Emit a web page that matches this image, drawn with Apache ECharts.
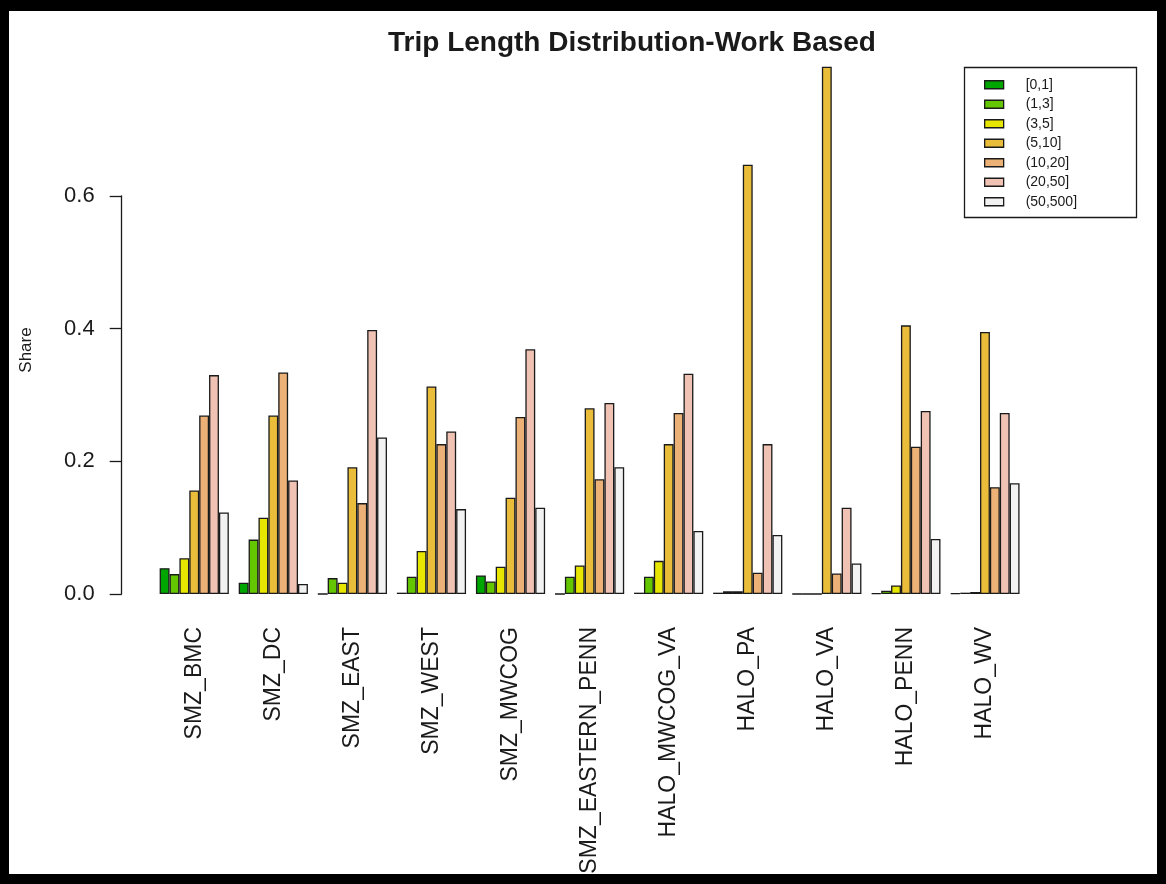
<!DOCTYPE html>
<html>
<head>
<meta charset="utf-8">
<title>Trip Length Distribution-Work Based</title>
<script src="https://cdn.jsdelivr.net/npm/echarts@6/dist/echarts.min.js"></script>
<style>
  html, body { margin: 0; padding: 0; background: #fff; }
  #chart { width: 1166px; height: 884px; }
</style>
</head>
<body>
<div id="chart"></div>
<script>
// regions (x axis categories)
const regions = ['SMZ_BMC', 'SMZ_DC', 'SMZ_EAST', 'SMZ_WEST', 'SMZ_MWCOG', 'SMZ_EASTERN_PENN',
  'HALO_MWCOG_VA', 'HALO_PA', 'HALO_VA', 'HALO_PENN', 'HALO_WV']

// trip length bins (legend)
const bins = ['[0,1]', '(1,3]', '(3,5]', '(5,10]', '(10,20]', '(20,50]', '(50,500]']
const binColors = ['#00A600', '#63C600', '#E6E600', '#E9BD3A', '#ECB176', '#EFC2B3', '#F2F2F2']

// share per region, one array per bin
const share0to1 = [0.039, 0.017, 0.000, 0.002, 0.028, 0.000, 0.002, 0.002, 0.000, 0.001, 0.001]
const share1to3 = [0.030, 0.082, 0.024, 0.026, 0.019, 0.026, 0.026, 0.004, 0.000, 0.005, 0.002]
const share3to5 = [0.054, 0.115, 0.017, 0.065, 0.041, 0.043, 0.050, 0.004, 0.000, 0.013, 0.003]
const share5to10 = [0.156, 0.269, 0.191, 0.313, 0.145, 0.280, 0.226, 0.647, 0.795, 0.405, 0.395]
const share10to20 = [0.269, 0.334, 0.137, 0.226, 0.267, 0.173, 0.273, 0.032, 0.031, 0.222, 0.161]
const share20to50 = [0.330, 0.171, 0.398, 0.245, 0.369, 0.288, 0.332, 0.226, 0.130, 0.276, 0.273]
const share50to500 = [0.123, 0.015, 0.236, 0.128, 0.130, 0.191, 0.095, 0.089, 0.046, 0.083, 0.167]

const shares = [share0to1, share1to3, share3to5, share5to10, share10to20, share20to50, share50to500]

// y axis ticks
const yTicks = [0, 0.2, 0.4, 0.6]

const font = '"Liberation Sans", Arial, sans-serif'
const ink = '#1a1a1a'

const chart = echarts.init(document.getElementById('chart'))

chart.setOption({
  backgroundColor: '#fff',
  animation: false,
  title: {
    text: 'Trip Length Distribution-Work Based',
    left: 627,
    top: 24,
    textAlign: 'center',
    textStyle: { fontFamily: font, fontSize: 28, fontWeight: 'bold', color: ink }
  },
  legend: {
    data: bins,
    orient: 'vertical',
    left: 984,
    top: 75,
    padding: 0,
    itemGap: 0,
    itemWidth: 19,
    itemHeight: 8,
    icon: 'rect',
    itemStyle: { borderColor: ink, borderWidth: 1.3 },
    textStyle: { fontFamily: font, fontSize: 14, lineHeight: 19.5, color: ink, padding: [0, 0, 0, 17] }
  },
  grid: { left: 154.7, right: 141.5, top: 196, bottom: 290 },
  xAxis: {
    type: 'category',
    data: regions,
    axisLine: { show: false },
    axisTick: { show: false },
    axisLabel: {
      rotate: 90,
      margin: 33,
      interval: 0,
      fontFamily: font,
      fontSize: 23,
      color: ink
    }
  },
  yAxis: {
    type: 'value',
    min: yTicks[0],
    max: yTicks[yTicks.length - 1],
    interval: 0.2,
    offset: 33,
    splitLine: { show: false },
    axisLine: { show: true, lineStyle: { color: ink, width: 1.3 } },
    axisTick: { show: true, length: 12, lineStyle: { color: ink, width: 1.3 } },
    axisLabel: {
      margin: 27,
      fontFamily: font,
      fontSize: 22,
      color: ink,
      formatter: v => v.toFixed(1)
    }
  },
  graphic: [
    {
      type: 'text',
      x: 26,
      y: 350,
      rotation: Math.PI / 2,
      style: {
        text: 'Share',
        fontFamily: font,
        fontSize: 17,
        fill: ink,
        align: 'center',
        verticalAlign: 'middle'
      }
    },
    {
      type: 'rect',
      shape: { x: 964.5, y: 67.5, width: 172, height: 150 },
      style: { fill: 'none', stroke: ink, lineWidth: 1.3 }
    },
    // outer black frame
    { type: 'rect', z: 100, shape: { x: 0, y: 0, width: 1166, height: 11 }, style: { fill: '#000' } },
    { type: 'rect', z: 100, shape: { x: 0, y: 874, width: 1166, height: 10 }, style: { fill: '#000' } },
    { type: 'rect', z: 100, shape: { x: 0, y: 0, width: 9, height: 884 }, style: { fill: '#000' } },
    { type: 'rect', z: 100, shape: { x: 1157, y: 0, width: 9, height: 884 }, style: { fill: '#000' } }
  ],
  series: bins.map((name, i) => ({
    name: name,
    type: 'bar',
    data: shares[i],
    clip: false,
    barGap: 0,
    barCategoryGap: '12.5%',
    itemStyle: { color: binColors[i], borderColor: ink, borderWidth: 1.3 }
  }))
})
</script>
</body>
</html>
